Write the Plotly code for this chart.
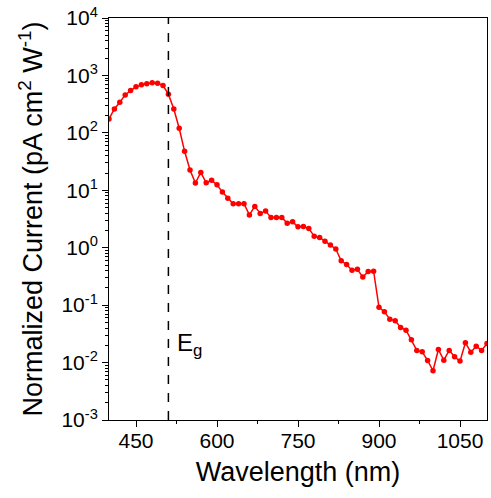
import plotly.graph_objects as go

# wavelength (nm), one point every 10 nm
wavelength = list(range(400, 1101, 10))

# normalized current (pA cm^2 W^-1)
current = [
    175, 261, 342, 458, 545, 632, 685, 713, 743, 734,
    667, 472, 261, 120, 47.7, 22.5, 13.4, 20.5, 13.5, 14.9,
    12.5, 9.3, 7.3, 5.8, 5.8, 5.85, 3.73, 5.24, 3.95, 4.34,
    3.37, 3.37, 3.37, 2.68, 2.82, 2.31, 2.34, 2.17, 1.58, 1.51,
    1.30, 1.12, 0.95, 0.59, 0.51, 0.405, 0.42, 0.308, 0.386, 0.39,
    0.0916, 0.077, 0.057, 0.0536, 0.041, 0.0367, 0.025, 0.0163, 0.0154, 0.0109,
    0.0072, 0.0169, 0.0110, 0.0163, 0.0126, 0.0106, 0.0222, 0.0152, 0.0193, 0.0163,
    0.0215,
]

band_gap = 510
x_ticks = [450, 600, 750, 900, 1050]
y_exponents = [-3, -2, -1, 0, 1, 2, 3, 4]

FONT = "Liberation Sans, Arial, sans-serif"

y_tickvals = [10.0 ** e for e in y_exponents]
y_ticktext = ["10<sup>%d</sup>" % e for e in y_exponents]
y_minor = [m * 10.0 ** e for e in y_exponents[:-1] for m in range(2, 10)]

fig = go.Figure()
fig.add_trace(go.Scatter(
    x=wavelength, y=current, mode="lines+markers",
    line=dict(color="#ff0000", width=1.5),
    marker=dict(color="#ff0000", size=5.5),
    showlegend=False,
))

fig.add_vline(x=band_gap, line=dict(color="black", width=1.5, dash="dash"))
fig.add_annotation(
    x=band_gap, y=-1.68, xref="x", yref="y",
    text="E<sub>g</sub>", showarrow=False,
    xanchor="left", yanchor="middle", xshift=7,
    font=dict(family=FONT, size=24, color="black"),
)

fig.update_xaxes(
    range=[400, 1100], tickvals=x_ticks, automargin=False,
    ticks="outside", ticklen=6, tickwidth=1, tickcolor="black",
    ticklabelstandoff=-4,
    minor=dict(ticks="outside", ticklen=3, dtick=75, tick0=450, tickcolor="black"),
    showline=True, linecolor="black", linewidth=1, mirror=True,
    showgrid=False, zeroline=False,
    tickfont=dict(family=FONT, size=21, color="black"),
    title=dict(text="Wavelength (nm)", font=dict(family=FONT, size=27, color="black"), standoff=10),
)
fig.update_yaxes(
    type="log", range=[-3, 4], tickvals=y_tickvals, ticktext=y_ticktext, automargin=False,
    ticks="outside", ticklen=6, tickwidth=1, tickcolor="black",
    minor=dict(ticks="outside", ticklen=3, tickvals=y_minor, tickcolor="black"),
    showline=True, linecolor="black", linewidth=1, mirror=True,
    showgrid=False, zeroline=False,
    tickfont=dict(family=FONT, size=21, color="black"),
    title=dict(text="Normalized Current (pA cm<sup>2</sup> W<sup>-1</sup>)",
               font=dict(family=FONT, size=27, color="black"), standoff=10),
)

fig.update_layout(
    width=491, height=498,
    margin=dict(l=109, r=4, t=18, b=78),
    paper_bgcolor="white", plot_bgcolor="white",
)

# drop the browser's default 8px body margin so the figure sits at the page corner
fig.write_html("out.html", config={"displayModeBar": False},
               post_script="document.body.style.margin='0';")
